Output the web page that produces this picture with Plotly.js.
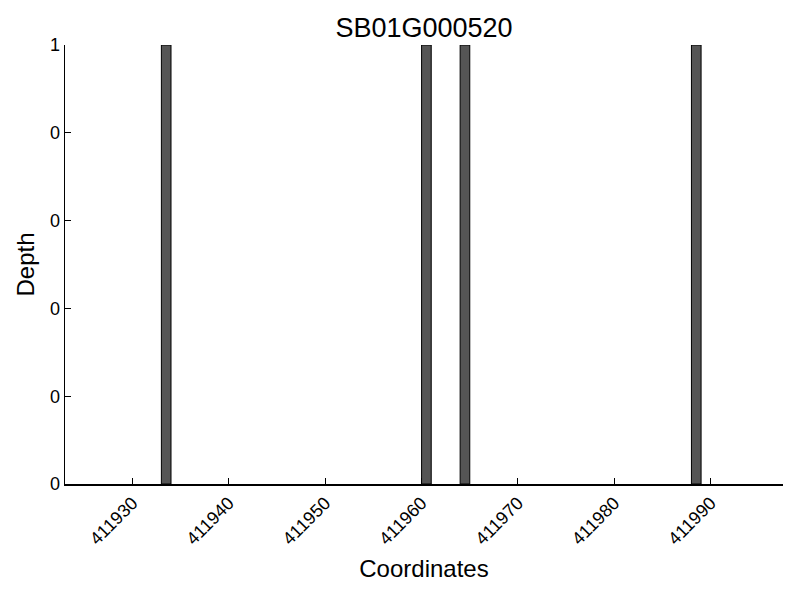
<!DOCTYPE html>
<html>
<head>
<meta charset="utf-8">
<script src="https://cdn.plot.ly/plotly-3.0.1.min.js"></script>
<style>html,body{margin:0;padding:0;background:#fff;}#chart{width:800px;height:600px;}</style>
</head>
<body>
<div id="chart"></div>
<script>
const chartTitle = "SB01G000520";
const positions = [411933, 411960, 411964, 411988];
const depths = [1, 1, 1, 1];
const xTickVals = [411930, 411940, 411950, 411960, 411970, 411980, 411990];
const yTickVals = [0, 0.2, 0.4, 0.6, 0.8, 1.0];

const trace = {
  type: "bar",
  x: positions,
  y: depths,
  offset: 0,
  width: 1,
  marker: {color: "#555555", line: {color: "#000000", width: 1}},
  hoverinfo: "x+y"
};

const layout = {
  width: 800, height: 600,
  paper_bgcolor: "#ffffff", plot_bgcolor: "#ffffff",
  font: {family: "Liberation Sans, Arial, sans-serif", color: "#000000", size: 18},
  margin: {l: 65, r: 17, t: 45, b: 116},
  showlegend: false,
  title: {text: chartTitle, font: {size: 27}, x: 0.5, xref: "paper", xanchor: "center", y: 1, yref: "paper", yanchor: "bottom", pad: {b: 8}},
  xaxis: {
    range: [411923, 411997.5],
    tickmode: "array", tickvals: xTickVals, ticktext: xTickVals.map(String),
    tickfont: {size: 18},
    tickangle: -45, ticks: "inside", ticklen: 6, tickcolor: "#000",
    showline: true, linecolor: "#000", linewidth: 1.5, mirror: false,
    showgrid: false, zeroline: false,
    title: {text: "Coordinates", font: {size: 24}, standoff: 12}
  },
  yaxis: {
    range: [0, 1],
    tickmode: "array", tickvals: yTickVals, ticktext: yTickVals.map(v => String(Math.floor(v + 1e-9))),
    tickfont: {size: 18},
    ticks: "inside", ticklen: 6, tickcolor: "#000",
    showline: true, linecolor: "#000", linewidth: 1.5, mirror: false,
    showgrid: false, zeroline: false,
    title: {text: "Depth", font: {size: 24}, standoff: 8}
  },
  bargap: 0
};

Plotly.newPlot("chart", [trace], layout, {displayModeBar: false, staticPlot: true});
</script>
</body>
</html>
